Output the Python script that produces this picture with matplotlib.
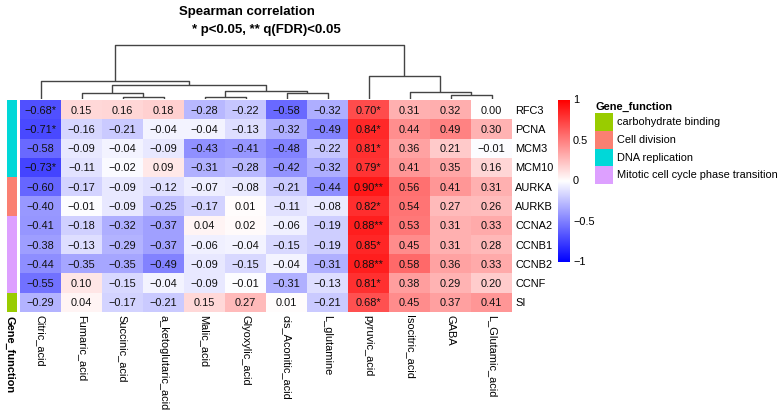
import numpy as np
import matplotlib
matplotlib.use("Agg")
import matplotlib.pyplot as plt
from matplotlib.colors import LinearSegmentedColormap
from matplotlib.patches import Rectangle

plt.rcParams['font.family'] = ['Liberation Sans', 'DejaVu Sans']

# --- data ---
metabolites = ["Citric_acid", "Fumaric_acid", "Succinic_acid", "a_ketoglutaric_acid",
               "Malic_acid", "Glyoxylic_acid", "cis_Aconitic_acid", "L_glutamine",
               "pyruvic_acid", "Isocitric_acid", "GABA", "L_Glutamic_acid"]
genes = ["RFC3", "PCNA", "MCM3", "MCM10", "AURKA", "AURKB",
         "CCNA2", "CCNB1", "CCNB2", "CCNF", "SI"]

rho = np.array([
    [-0.68, 0.15, 0.16, 0.18, -0.28, -0.22, -0.58, -0.32, 0.70, 0.31, 0.32, 0.00],
    [-0.71, -0.16, -0.21, -0.04, -0.04, -0.13, -0.32, -0.49, 0.84, 0.44, 0.49, 0.30],
    [-0.58, -0.09, -0.04, -0.09, -0.43, -0.41, -0.48, -0.22, 0.81, 0.36, 0.21, -0.01],
    [-0.73, -0.11, -0.02, 0.09, -0.31, -0.28, -0.42, -0.32, 0.79, 0.41, 0.35, 0.16],
    [-0.60, -0.17, -0.09, -0.12, -0.07, -0.08, -0.21, -0.44, 0.90, 0.56, 0.41, 0.31],
    [-0.40, -0.01, -0.09, -0.25, -0.17, 0.01, -0.11, -0.08, 0.82, 0.54, 0.27, 0.26],
    [-0.41, -0.18, -0.32, -0.37, 0.04, 0.02, -0.06, -0.19, 0.88, 0.53, 0.31, 0.33],
    [-0.38, -0.13, -0.29, -0.37, -0.06, -0.04, -0.15, -0.19, 0.85, 0.45, 0.31, 0.28],
    [-0.44, -0.35, -0.35, -0.49, -0.09, -0.15, -0.04, -0.31, 0.88, 0.58, 0.36, 0.33],
    [-0.55, 0.10, -0.15, -0.04, -0.09, -0.01, -0.31, -0.13, 0.81, 0.38, 0.29, 0.20],
    [-0.29, 0.04, -0.17, -0.21, 0.15, 0.27, 0.01, -0.21, 0.68, 0.45, 0.37, 0.41],
])

# significance marks (row, col) -> "*" or "**"
stars = {(0, 0): "*", (1, 0): "*", (3, 0): "*",
         (0, 8): "*", (1, 8): "*", (2, 8): "*", (3, 8): "*", (4, 8): "**",
         (5, 8): "*", (6, 8): "**", (7, 8): "*", (8, 8): "**", (9, 8): "*", (10, 8): "*"}

gene_function = ["DNA replication"] * 4 + ["Cell division"] * 2 + \
                ["Mitotic cell cycle phase transition"] * 4 + ["carbohydrate binding"]
func_names = ["carbohydrate binding", "Cell division", "DNA replication",
              "Mitotic cell cycle phase transition"]
func_colors = {"carbohydrate binding": "#99CC00", "Cell division": "#FA8072",
               "DNA replication": "#00D8D8", "Mitotic cell cycle phase transition": "#DDA0FF"}

# column dendrogram merges: (left, right, height); leaves 0..11, new nodes 12+
merges = [(4, 5, 2), (2, 3, 2), (6, 7, 6), (1, 13, 6), (12, 14, 8), (15, 16, 14),
          (0, 17, 18), (10, 11, 4), (9, 19, 7), (8, 20, 23), (18, 21, 54)]

W, H = 778, 412
FS = 7.9
fig = plt.figure(figsize=(W / 100, H / 100), dpi=100)

def px_axes(x0, y0, x1, y1):
    return fig.add_axes([x0 / W, 1 - y1 / H, (x1 - x0) / W, (y1 - y0) / H])

cmap = LinearSegmentedColormap.from_list("bwr2", ["#0000FF", "#FFFFFF", "#FF0000"])

# heatmap
ax = px_axes(20, 100, 512, 312)
nr, nc = rho.shape
ax.imshow(rho, cmap=cmap, vmin=-1, vmax=1, aspect="auto",
          extent=[0, nc, nr, 0], interpolation="nearest")
for i in range(nr):
    for j in range(nc):
        txt = f"{rho[i, j]:.2f}".replace("-", "\u2212") + stars.get((i, j), "")
        ax.text(j + 0.5, i + 0.55, txt, ha="center", va="center", fontsize=7.9, color="#111111")
ax.set_xlim(0, nc)
ax.set_ylim(nr, 0)
ax.set_xticks([])
ax.set_yticks([])
for s in ax.spines.values():
    s.set_visible(False)
for i, g in enumerate(genes):
    ax.text(nc + 0.08, i + 0.55, g, ha="left", va="center", fontsize=FS)
for j, m in enumerate(metabolites):
    ax.text(j + 0.5, nr + 0.15, m, ha="center", va="top", rotation=270, fontsize=FS)

# annotation bar
axa = px_axes(7, 100, 17, 312)
for i, f in enumerate(gene_function):
    axa.add_patch(Rectangle((0, i), 1, 1, color=func_colors[f], lw=0))
axa.set_xlim(0, 1)
axa.set_ylim(nr, 0)
axa.axis("off")
fig.text(10 / W, 1 - 316 / H, "Gene_function", rotation=270, ha="center", va="top",
         fontsize=FS, fontweight="bold")

# dendrogram
axd = px_axes(20, 40, 512, 99)
pos = {i: i + 0.5 for i in range(nc)}
hgt = {i: 0 for i in range(nc)}
for k, (a, b, h) in enumerate(merges):
    node = nc + k
    axd.plot([pos[a], pos[a], pos[b], pos[b]], [hgt[a], h, h, hgt[b]],
             color="#444444", lw=1.0, solid_capstyle="butt")
    pos[node] = (pos[a] + pos[b]) / 2
    hgt[node] = h
axd.set_xlim(0, nc)
axd.set_ylim(0, 59)
axd.axis("off")

# colorbar
axc = px_axes(558, 100, 570, 262)
grad = np.linspace(1, -1, 256).reshape(-1, 1)
axc.imshow(grad, cmap=cmap, vmin=-1, vmax=1, aspect="auto", extent=[0, 1, -1, 1])
axc.set_xticks([])
axc.set_yticks([])
for s in axc.spines.values():
    s.set_visible(False)
for v, lab in zip([1, 0.5, 0, -0.5, -1], ["1", "0.5", "0", "\u22120.5", "\u22121"]):
    axc.text(1.25, v, lab, ha="left", va="center", fontsize=FS, transform=axc.transData)
axc.set_xlim(0, 1)
axc.set_ylim(-1, 1)

# legend
fig.text(595 / W, 1 - 107 / H, "Gene_function", ha="left", va="center",
         fontsize=FS, fontweight="bold")
for k, f in enumerate(func_names):
    y0 = 113 + k * 17.8
    fig.patches.append(Rectangle((595 / W, 1 - (y0 + 17.8) / H), 18 / W, 17.8 / H,
                                 color=func_colors[f], lw=0, transform=fig.transFigure))
    fig.text(617 / W, 1 - (y0 + 9) / H, f, ha="left", va="center", fontsize=FS)

# title
fig.text(247 / W, 1 - 12 / H, "Spearman correlation", ha="center", va="center",
         fontsize=9.5, fontweight="bold")
fig.text(266 / W, 1 - 30 / H, "* p<0.05, ** q(FDR)<0.05", ha="center", va="center",
         fontsize=9.5, fontweight="bold")

fig.savefig("out.png", dpi=100)
